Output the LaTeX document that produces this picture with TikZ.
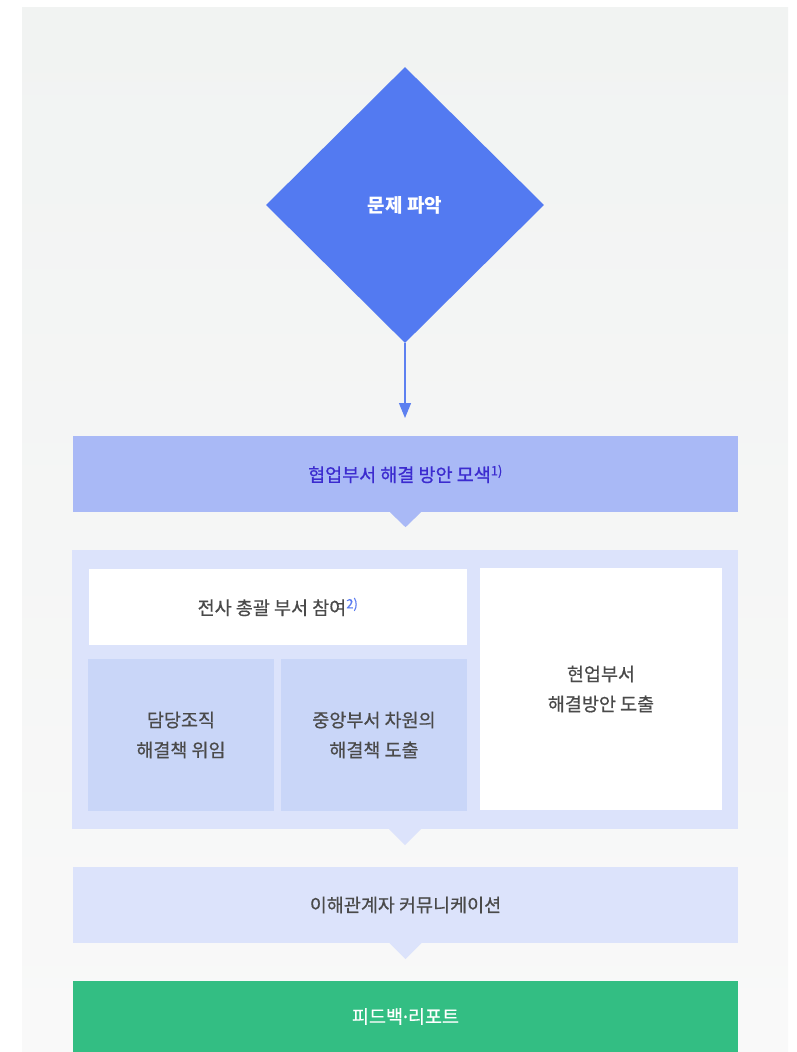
\documentclass[tikz,border=0pt]{standalone}
\usepackage{fontspec}
\setmainfont{Noto Sans CJK KR}
\newfontfamily\krmed[FakeBold=0.6]{Noto Sans CJK KR}
\newfontfamily\latinmed[FakeBold=0.6]{Noto Sans}
\usetikzlibrary{arrows.meta,shapes.geometric,positioning}

\definecolor{pagetop}{HTML}{F1F3F2}
\definecolor{pagebottom}{HTML}{F9F9F9}
\definecolor{probblue}{HTML}{537AF1}
\definecolor{linkblue}{HTML}{5D80F0}
\definecolor{searchblue}{HTML}{A9B9F6}
\definecolor{searchtext}{HTML}{3B2BCF}
\definecolor{paleblue}{HTML}{DCE3FB}
\definecolor{midblue}{HTML}{C9D6F8}
\definecolor{reportgreen}{HTML}{33BE83}
\definecolor{graytext}{HTML}{4A4A4A}
\definecolor{supblue}{HTML}{5B7CF0}

\begin{document}
\begin{tikzpicture}[x=1pt,y=-1pt,
	box/.style={rectangle, inner sep=0pt, align=center, text=graytext,
		font=\krmed\fontsize{18.5}{30}\selectfont},
	tip/.style={fill=#1}]
	\useasboundingbox (0,0) rectangle (797,1052);
	\shade[top color=pagetop, bottom color=pagebottom] (22,7) rectangle (788,1052);

	\node[diamond, fill=probblue, inner sep=0pt, minimum width=278pt, minimum height=276pt,
		text=white, font=\fontsize{19}{20}\selectfont\bfseries] (problem) at (405,205) {문제 파악};
	\coordinate (arrowend) at (405,418);
	\draw [-{Triangle[width=12pt,length=15pt]}, draw=linkblue, fill=linkblue, line width=1.2pt] (problem.south) to (arrowend);

	\node[box, fill=searchblue, text=searchtext, minimum width=665pt, minimum height=76pt] (search) at (405.5,474)
		{협업부서 해결 방안 모색\textsuperscript{1)}};
	\fill[tip=searchblue] (search.south) ++(-15.5,0) -- ++(31,0) -- ++(-15.5,15) -- cycle;

	\node[box, fill=paleblue, minimum width=666pt, minimum height=279pt] (panel) at (405,689.5) {};
	\fill[tip=paleblue] (panel.south) ++(-16,0) -- ++(32,0) -- ++(-16,16) -- cycle;
	\node[box, fill=white, minimum width=378pt, minimum height=76pt] (allhands) at (278,607)
		{전사 총괄 부서 참여{\color{supblue}\textsuperscript{2)}}};
	\node[box, fill=midblue, minimum width=186pt, minimum height=152pt] (delegate) at (181,735)
		{담당조직\\해결책 위임};
	\node[box, fill=midblue, minimum width=186pt, minimum height=152pt] (central) at (374,735)
		{중앙부서 차원의\\해결책 도출};
	\node[box, fill=white, minimum width=242pt, minimum height=242pt] (field) at (601,689)
		{현업부서\\해결방안 도출};

	\node[box, fill=paleblue, minimum width=665pt, minimum height=76pt] (talk) at (405.5,905)
		{이해관계자 커뮤니케이션};
	\fill[tip=paleblue] (talk.south) ++(-16,0) -- ++(32,0) -- ++(-16,16) -- cycle;

	\node[box, fill=reportgreen, text=white, minimum width=665pt, minimum height=71pt] (report) at (405.5,1016.5)
		{피드백{\latinmed ·}리포트};
\end{tikzpicture}
\end{document}
